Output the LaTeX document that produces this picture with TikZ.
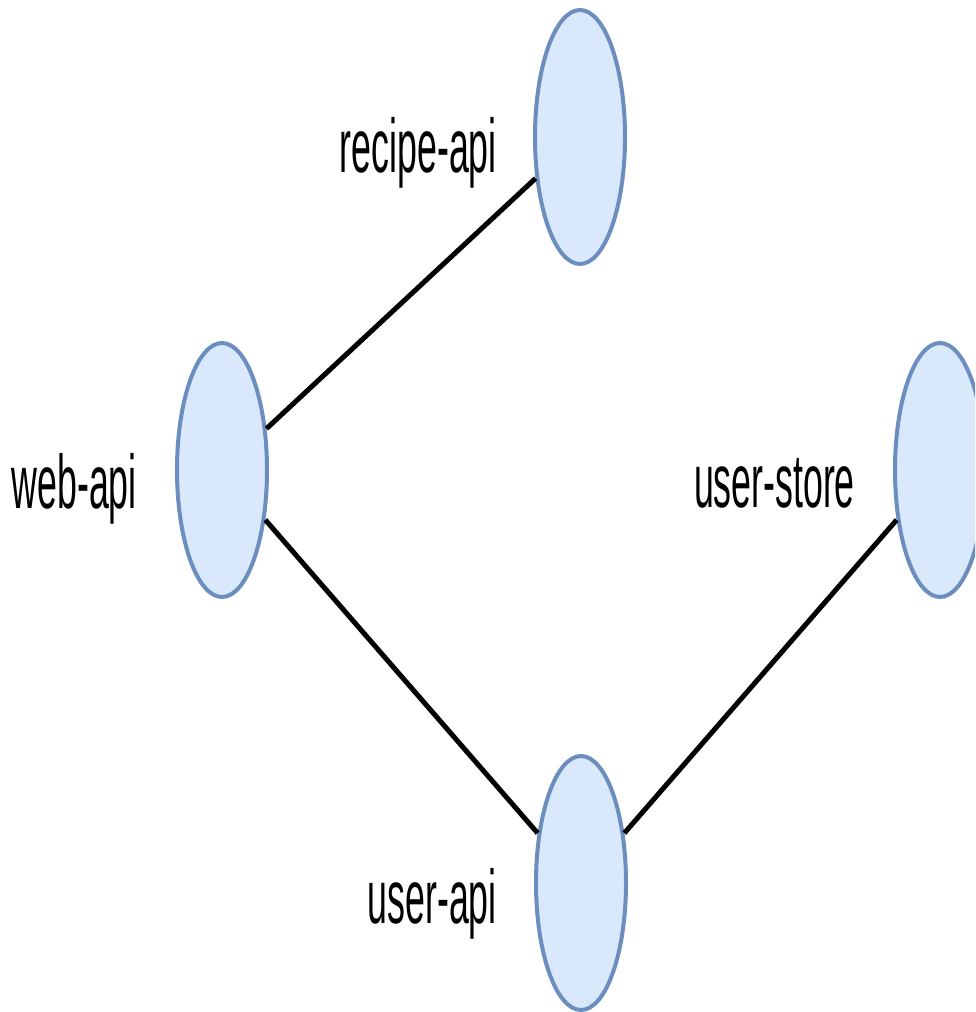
\documentclass[tikz,border=0pt]{standalone}
\usepackage{fontspec}
\setmainfont{Liberation Sans}
\usetikzlibrary{shapes.geometric}
\definecolor{svcfill}{HTML}{DAE8FC}
\definecolor{svcline}{HTML}{6C8EBF}
\tikzset{
  svc/.style={ellipse, draw=svcline, fill=svcfill, line width=4pt,
              minimum width=90pt, minimum height=254pt, inner sep=0pt},
  lbl/.style={anchor=base east, inner sep=0pt,
              font=\fontsize{76}{90}\selectfont},
  link/.style={draw=black, line width=5pt}
}
\newcommand{\narrow}[1]{\scalebox{0.47}[1]{#1}}
\begin{document}
\begin{tikzpicture}[x=1pt, y=-1pt]
  \useasboundingbox (0,0) rectangle (975,1012);
  \clip (0,0) rectangle (975,1012);
  \fill[white] (0,0) rectangle (975,1012);

  % services
  \node[svc] (recipe) at (580,137) {};
  \node[svc] (web)    at (222,470) {};
  \node[svc] (store)  at (940,470) {};
  \node[svc] (user)   at (581,883) {};

  % labels
  \node[lbl] (recipeL) at (497,172) {\narrow{recipe-api}};
  \node[lbl] (webL)    at (137,508) {\narrow{web-api}};
  \node[lbl] (storeL)  at (855,507) {\narrow{user-store}};
  \node[lbl] (userL)   at (497,923) {\narrow{user-api}};

  % dependencies
  \draw[link] (web) -- (recipe);
  \draw[link] (web) -- (user);
  \draw[link] (user) -- (store);
\end{tikzpicture}
\end{document}
